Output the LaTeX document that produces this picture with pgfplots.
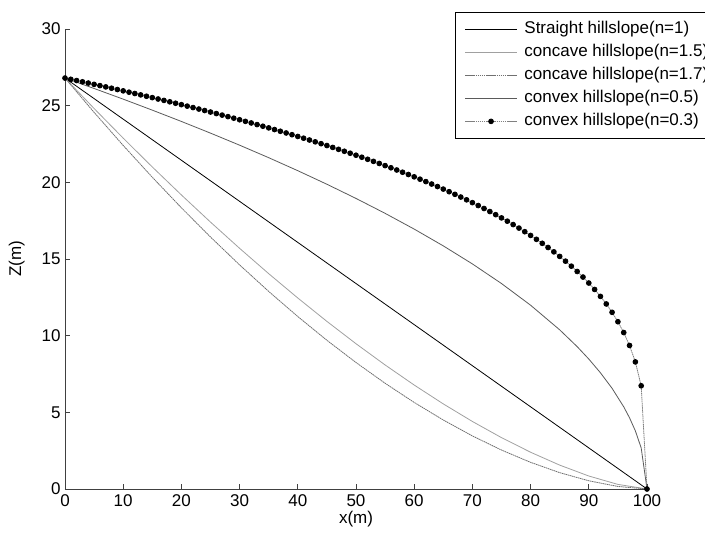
\documentclass[border=0pt]{standalone}
\usepackage{fontspec}
\setmainfont{Liberation Sans}
\usepackage{pgfplots}
\pgfplotsset{compat=1.18}
\definecolor{axgray}{HTML}{404040}
\definecolor{gA}{HTML}{A0A0A0}
\definecolor{gB}{HTML}{707070}
\definecolor{gC}{HTML}{5A5A5A}
\definecolor{gD}{HTML}{808080}
\begin{document}
\begin{tikzpicture}
\useasboundingbox (0,0) rectangle (705pt,535pt);
\clip (0,0) rectangle (705pt,535pt);
\begin{axis}[
  at={(65pt,46pt)}, anchor=south west,
  scale only axis, width=582pt, height=460pt,
  xmin=0, xmax=100, ymin=0, ymax=30,
  axis x line*=bottom, axis y line*=left,
  axis line style={axgray, line width=0.8pt, -},
  xtick={0,10,...,100}, ytick={0,5,...,30},
  tick align=inside, major tick length=5pt,
  tick style={axgray, line width=0.8pt},
  /pgf/number format/assume math mode=true,
  ticklabel style={font=\fontsize{17}{20}\selectfont, text=black},
  xticklabel style={yshift=-2pt},
  yticklabel style={xshift=-1pt},
  xlabel={x(m)}, ylabel={Z(m)},
  label style={font=\fontsize{17}{20}\selectfont},
  xlabel style={yshift=2pt},
  ylabel style={yshift=10pt},
  legend cell align=left,
  legend style={at={(0.6705,1.0370)}, anchor=north west, draw=black, line width=0.8pt,
    font=\fontsize{17}{20}\selectfont, inner xsep=9pt, inner ysep=8.5pt,
    nodes={inner sep=0pt, text height=13pt, text depth=4pt},
    row sep=6pt, column sep=7pt, fill=white},
  legend image code/.code={\draw[#1,line width=0.8pt,mark repeat=2,mark phase=2] plot coordinates {(0pt,0pt) (26pt,0pt) (52pt,0pt)};},
]
\addplot[black, line width=0.8pt] coordinates {(0,26.8) (100,0)};
\addlegendentry{Straight hillslope(n=1)}
\addplot[gA, line width=0.8pt] coordinates {
(0,26.8) (5,24.815) (10,22.882) (15,21.002) (20,19.177) (25,17.407) (30,15.696)
(35,14.044) (40,12.456) (45,10.931) (50,9.475) (55,8.090) (60,6.780) (65,5.549)
(70,4.404) (75,3.350) (80,2.397) (85,1.557) (90,0.847) (95,0.300) (100,0)};
\addlegendentry{concave hillslope(n=1.5)}
\addplot[gB, line width=0.8pt, dash pattern=on 1.5pt off 0.6pt] coordinates {
(0,26.8) (5,24.562) (10,22.405) (15,20.331) (20,18.340) (25,16.434) (30,14.615)
(35,12.885) (40,11.246) (45,9.699) (50,8.249) (55,6.896) (60,5.645) (65,4.499)
(70,3.461) (75,2.539) (80,1.738) (85,1.065) (90,0.535) (95,0.165) (100,0)};
\addlegendentry{concave hillslope(n=1.7)}
\addplot[gC, line width=0.8pt] coordinates {
(0,26.8) (5,26.121) (10,25.425) (15,24.708) (20,23.971) (25,23.209) (30,22.423)
(35,21.607) (40,20.759) (45,19.875) (50,18.950) (55,17.978) (60,16.950) (65,15.855)
(70,14.679) (75,13.400) (80,11.985) (85,10.380) (88,9.284) (90,8.475) (92,7.580)
(94,6.565) (96,5.360) (97,4.642) (98,3.790) (99,2.680) (100,0)};
\addlegendentry{convex hillslope(n=0.5)}
\addplot[gD, line width=0.8pt, dash pattern=on 1.5pt off 0.6pt, mark=*, mark size=2.4pt,
  mark options={solid, fill=black, draw=black}] coordinates {
(0,26.800) (1,26.719) (2,26.638) (3,26.556) (4,26.474) (5,26.391) (6,26.307) (7,26.223)
(8,26.138) (9,26.052) (10,25.966) (11,25.879) (12,25.792) (13,25.703) (14,25.614)
(15,25.525) (16,25.434) (17,25.343) (18,25.251) (19,25.158) (20,25.065) (21,24.970)
(22,24.875) (23,24.779) (24,24.682) (25,24.584) (26,24.485) (27,24.385) (28,24.285)
(29,24.183) (30,24.080) (31,23.977) (32,23.872) (33,23.766) (34,23.659) (35,23.551)
(36,23.442) (37,23.331) (38,23.219) (39,23.106) (40,22.992) (41,22.877) (42,22.760)
(43,22.641) (44,22.521) (45,22.400) (46,22.277) (47,22.152) (48,22.026) (49,21.898)
(50,21.768) (51,21.637) (52,21.503) (53,21.368) (54,21.231) (55,21.091) (56,20.949)
(57,20.805) (58,20.659) (59,20.510) (60,20.359) (61,20.205) (62,20.048) (63,19.888)
(64,19.725) (65,19.559) (66,19.390) (67,19.217) (68,19.041) (69,18.860) (70,18.675)
(71,18.486) (72,18.293) (73,18.094) (74,17.891) (75,17.681) (76,17.466) (77,17.245)
(78,17.016) (79,16.780) (80,16.537) (81,16.284) (82,16.022) (83,15.750) (84,15.466)
(85,15.169) (86,14.858) (87,14.532) (88,14.187) (89,13.821) (90,13.432) (91,13.014)
(92,12.562) (93,12.069) (94,11.523) (95,10.910) (96,10.204) (97,9.360) (98,8.288)
(99,6.732) (100,0)};
\addlegendentry{convex hillslope(n=0.3)}
\end{axis}
\end{tikzpicture}
\end{document}
